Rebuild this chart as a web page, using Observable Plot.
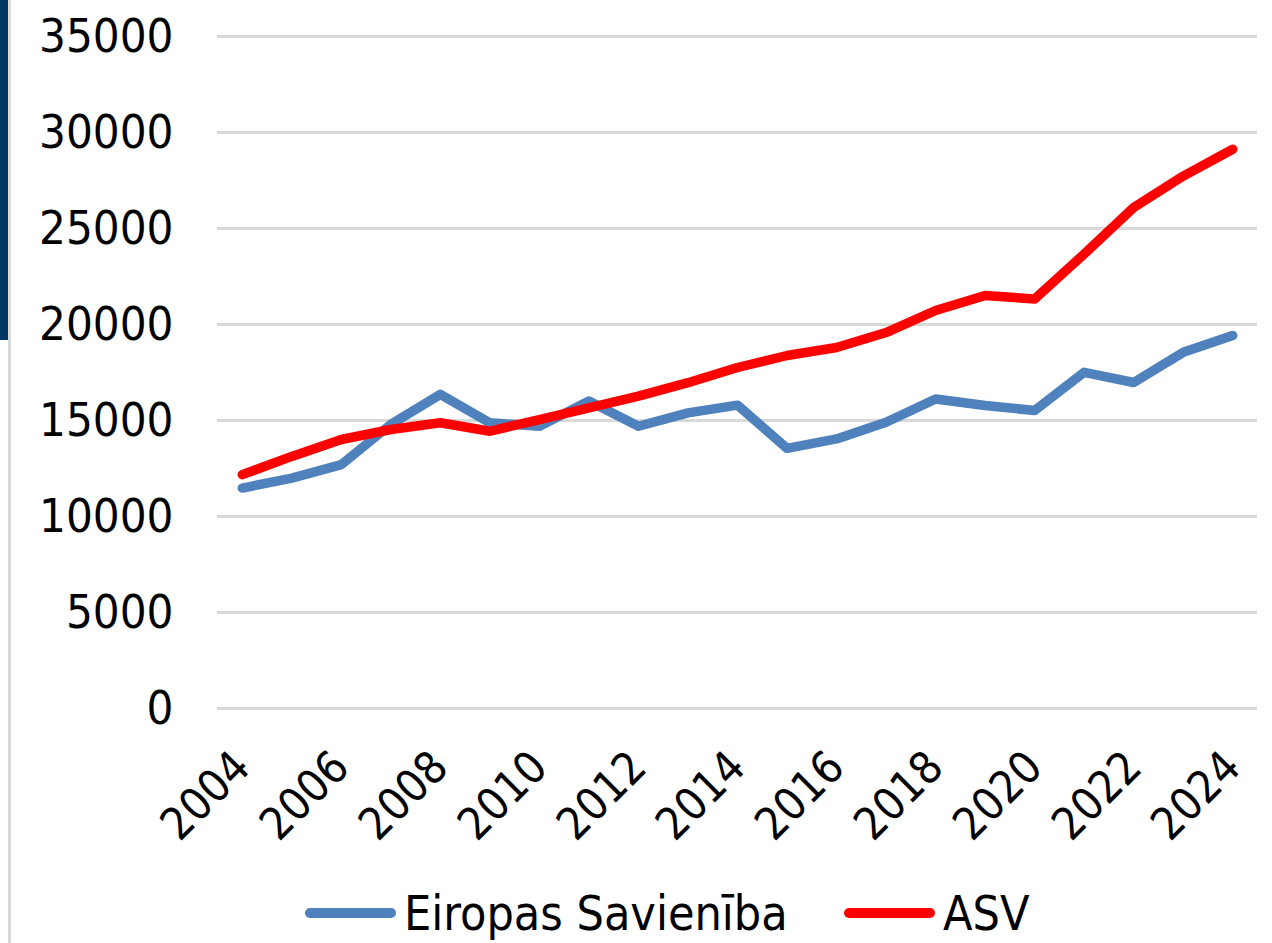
<!DOCTYPE html>
<html>
<head>
<meta charset="utf-8">
<script src="https://cdn.jsdelivr.net/npm/d3@7"></script>
<script src="https://cdn.jsdelivr.net/npm/@observablehq/plot@0.6"></script>
<style>
  html, body { margin: 0; padding: 0; background: #fff; }
  #wrap { position: relative; width: 1272px; height: 943px; overflow: hidden; }
  #bar { position: absolute; left: 0; top: 0; width: 8px; height: 340px; background: #023466; }
  #rule { position: absolute; left: 8px; top: 0; width: 3px; height: 943px; background: #d9d9d9; }
  #chart { position: absolute; left: 0; top: 0; }
  #legend { position: absolute; left: 0; top: 880px; width: 1272px; height: 62px;
    font-family: "DejaVu Sans Condensed", "DejaVu Sans", sans-serif; font-stretch: condensed;
    font-size: 48px; color: #000; }
  .item { position: absolute; top: 5px; display: flex; align-items: center; height: 56px; line-height: 1; }
  .sw { width: 91px; height: 10px; border-radius: 5px; margin-right: 8px; }
</style>
</head>
<body>
<div id="wrap">
  <div id="bar"></div>
  <div id="rule"></div>
  <div id="chart"></div>
  <div id="legend">
    <div class="item" style="left:305px"><div class="sw" style="background:#4f81bd"></div><span>Eiropas Savienība</span></div>
    <div class="item" style="left:844px"><div class="sw" style="background:#ff0000"></div><span>ASV</span></div>
  </div>
</div>
<script>
const years = [2004, 2005, 2006, 2007, 2008, 2009, 2010, 2011, 2012, 2013, 2014, 2015, 2016, 2017, 2018, 2019, 2020, 2021, 2022, 2023, 2024];
const euValues = [11480, 12000, 12700, 14800, 16360, 14880, 14700, 16010, 14700, 15400, 15800, 13550, 14040, 14910, 16120, 15780, 15520, 17510, 16980, 18550, 19430];
const usValues = [12180, 13130, 14010, 14530, 14880, 14440, 15050, 15660, 16270, 16970, 17760, 18385, 18800, 19580, 20730, 21510, 21330, 23670, 26090, 27730, 29130];
const seriesNames = ["Eiropas Savienība", "ASV"];
const xTicks = [2004, 2006, 2008, 2010, 2012, 2014, 2016, 2018, 2020, 2022, 2024];
const yTicks = [0, 5000, 10000, 15000, 20000, 25000, 30000, 35000];

const eu = years.map((y, i) => ({year: y, value: euValues[i], series: seriesNames[0]}));
const us = years.map((y, i) => ({year: y, value: usValues[i], series: seriesNames[1]}));

const chart = Plot.plot({
  width: 1272,
  height: 880,
  marginLeft: 217,
  marginRight: 15,
  marginTop: 36,
  marginBottom: 172,
  style: {
    fontFamily: '"DejaVu Sans Condensed", "DejaVu Sans", sans-serif',
    fontSize: "45px",
    color: "#000",
    background: "transparent",
    overflow: "visible"
  },
  x: {domain: [2003.5, 2024.5]},
  y: {domain: [0, 35000]},
  marks: [
    Plot.ruleY(yTicks, {stroke: "#d9d9d9", strokeWidth: 3}),
    Plot.axisY({ticks: yTicks, tickFormat: d => String(d), tickSize: 0, tickPadding: 44, label: null, fontSize: 47}),
    Plot.axisX({ticks: xTicks, tickFormat: d => String(d), tickSize: 0, tickPadding: 51, tickRotate: -45, label: null, fontSize: 45}),
    Plot.line(eu, {x: "year", y: "value", stroke: "#4f81bd", strokeWidth: 9.5, strokeLinecap: "round", strokeLinejoin: "round"}),
    Plot.line(us, {x: "year", y: "value", stroke: "#ff0000", strokeWidth: 9.5, strokeLinecap: "round", strokeLinejoin: "round"})
  ]
});
chart.style.fontStretch = "condensed";
document.getElementById("chart").appendChild(chart);
</script>
</body>
</html>
